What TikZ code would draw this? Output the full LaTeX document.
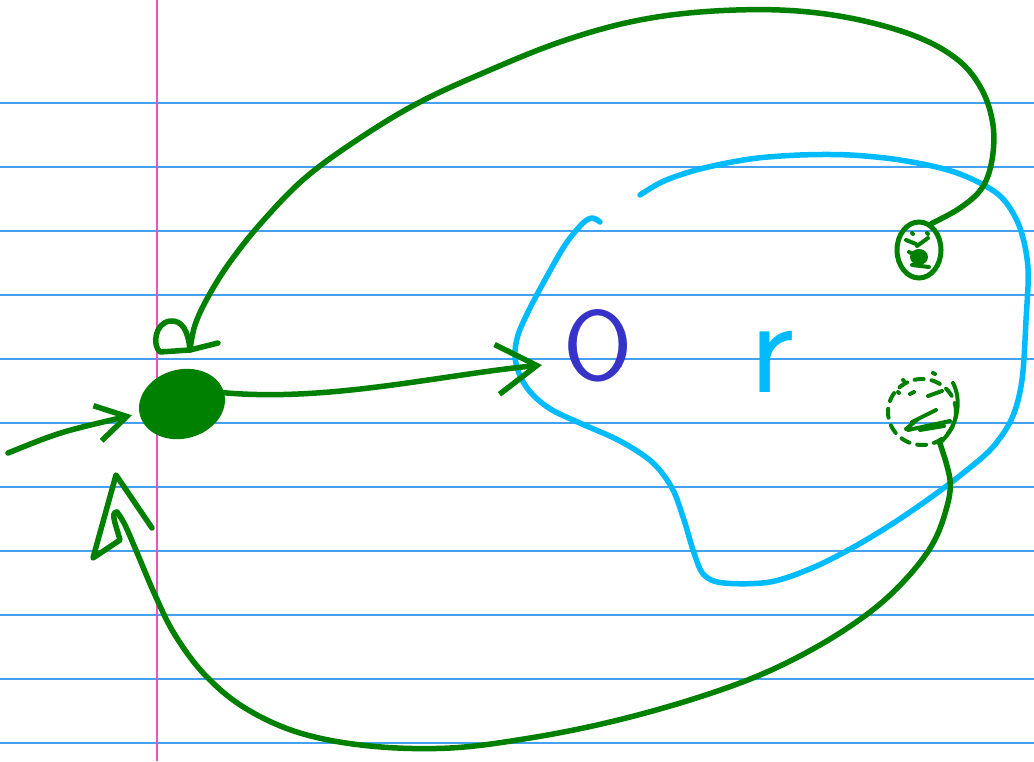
\documentclass[tikz,border=0pt]{standalone}
\usepackage{fontspec}
\usetikzlibrary{shapes.geometric,arrows.meta}
\definecolor{ink}{RGB}{0,128,0}
\definecolor{sky}{RGB}{0,187,255}
\definecolor{ruleblue}{RGB}{70,160,240}
\definecolor{marginpink}{RGB}{240,80,190}
\definecolor{violetink}{RGB}{55,50,200}
\begin{document}
\begin{tikzpicture}[x=1pt,y=-1pt,
  pen/.style={draw=ink,line width=5.5pt,line cap=round,line join=round},
  scrib/.style={draw=ink,line width=4pt,line cap=round,line join=round},
  paperline/.style={draw=ruleblue,line width=1.2pt},
  filledstate/.style={ellipse,draw=ink,fill=ink,line width=5pt,minimum width=82pt,minimum height=64pt,inner sep=0pt,rotate=15},
  openstate/.style={ellipse,draw=ink,line width=5pt,minimum width=44pt,minimum height=56pt,inner sep=0pt},
  dashstate/.style={ellipse,draw=ink,line width=4pt,dash pattern=on 9pt off 8pt,line cap=round,minimum width=68pt,minimum height=66pt,inner sep=0pt},
  letter/.style={inner sep=0pt,font=\sffamily}
]
\useasboundingbox (0,0) rectangle (1034,761);
\fill[white] (0,0) rectangle (1034,761);
\foreach \y in {103,167,...,743} \draw[paperline] (0,\y) -- (1034,\y);
\draw[marginpink,line width=1.3pt] (157,0) -- (157,761);

% cyan region
\draw[sky,line width=5.5pt,line cap=round,line join=round] plot[smooth,tension=0.55] coordinates {
 (600,222) (592,218) (582,224) (565,245) (546,278) (530,308) (518,335) (515,357) (521,378) (533,395) (552,410) (582,424) (620,441) (652,462) (672,488) (684,520) (694,553) (704,575) (724,583) (770,582) (812,568) (852,548) (892,524) (930,498) (962,474) (992,448) (1012,418) (1022,380) (1026,320) (1028,268) (1020,228) (1004,200) (982,184) (948,170) (900,160) (850,155) (800,155) (750,159) (700,169) (664,181) (640,195)};

% nodes
\node[filledstate] (S) at (182,404) {};
\node[openstate] (A) at (919,250) {};
\node[dashstate] (B) at (922,412) {};
\node[letter,text=violetink,font=\sffamily\fontsize{100}{100}\selectfont] (O) at (598,346) {O};
\node[letter,text=sky,font=\sffamily\fontsize{140}{140}\selectfont] (R) at (772,362) {r};

% scribbles inside A
\fill[ink] (919,257) ellipse (9pt and 8pt);
\draw[scrib] (906,240)--(916,244) (917,246)--(928,238) (909,252)--(925,259) (912,265)--(929,267) (912,233)--(913,234) (927,233)--(928,234);
% scribbles inside B
\draw[scrib] (903,380)--(904,381) (933,373)--(935,374) (898,392)--(899,393) (910,394)--(914,392) (928,396)--(942,391)
 (908,430)--(950,421) (912,422)--(936,410) (906,429)--(918,419) (920,430)--(944,426);
\draw[pen,line width=4pt] (953,383) .. controls (962,400) and (958,425) .. (942,441);

% coordinates for free ends
\coordinate (src) at (8,453);
\coordinate (oin) at (542,365);
\coordinate (ain) at (190,350);
\coordinate (bin) at (116,475);

% connectors
\draw[pen,-{Straight Barb[length=40pt,width=50pt]}] (S.east) .. controls (330,402) and (440,375) .. (oin);
\draw[pen,-{Straight Barb[length=30pt,width=36pt]}] (src) .. controls (60,432) .. ([xshift=-8pt]S.west);
\draw[pen] plot[smooth,tension=0.6] coordinates {(A.65) (960,208) (982,188) (992,160) (993,125) (982,90) (958,60) (915,36) (850,18) (780,10) (700,12) (630,22) (560,42) (490,70) (420,102) (360,138) (305,178) (262,222) (230,262) (208,297) (195,325) (ain)};
\draw[pen] (218,343) -- (ain) .. controls (188,330) and (182,320) .. (170,321) .. controls (155,323) and (152,345) .. (160,352) -- (ain);
\draw[pen] plot[smooth,tension=0.6] coordinates {(B.-60) (950,480) (946,510) (932,545) (905,580) (870,612) (820,645) (760,675) (690,700) (610,722) (530,738) (450,748) (370,746) (300,733) (245,708) (205,675) (175,635) (155,595) (138,555) (125,525) (117,512)};
\draw[pen] (152,528) -- (bin) -- (93,558) -- (120,540) .. controls (116,525) and (110,512) .. (117,512);
\end{tikzpicture}
\end{document}
